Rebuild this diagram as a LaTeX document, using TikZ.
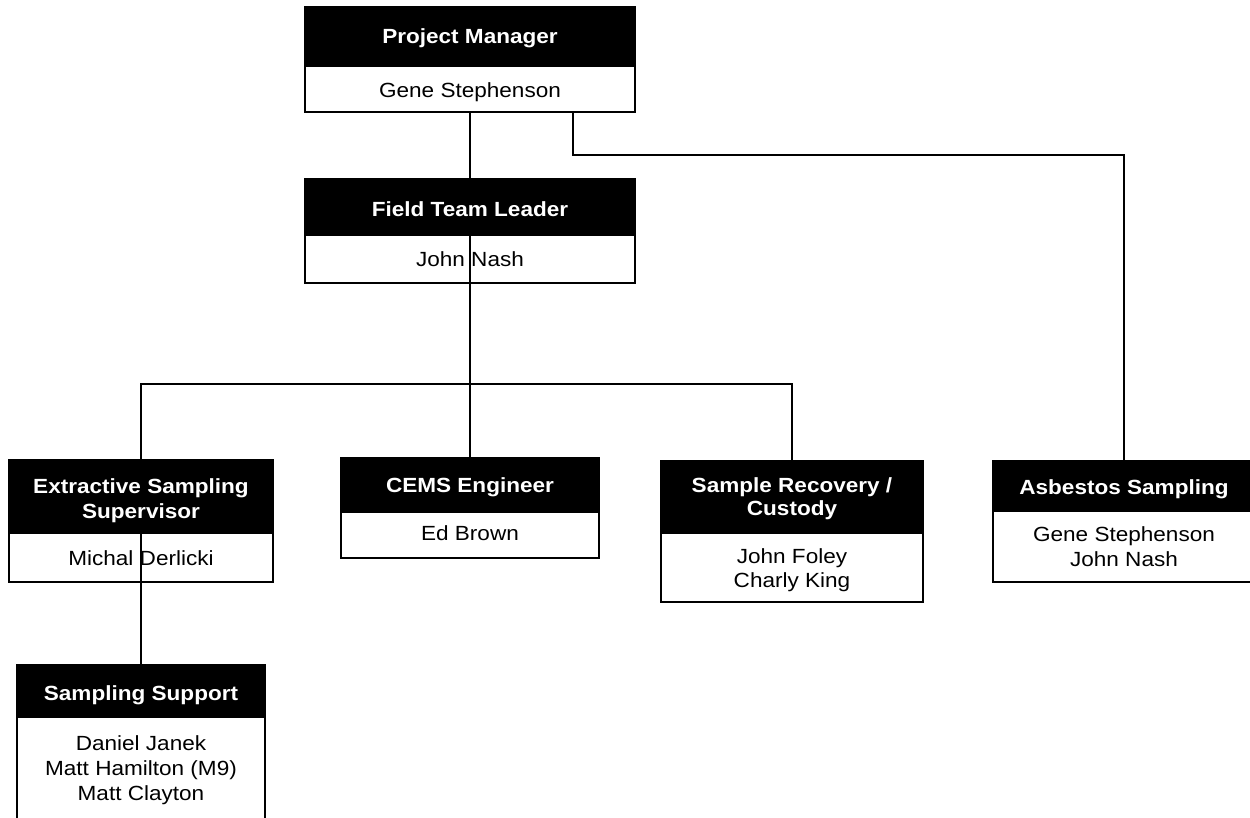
\documentclass[tikz,border=0pt]{standalone}
\usepackage{fontspec}
\setmainfont{Liberation Sans}[FakeStretch=1.1]
\begin{document}
\begin{tikzpicture}[x=1pt,y=-1pt,
  hd/.style={draw=black,fill=black,line width=2pt,inner sep=0pt,outer sep=0pt,anchor=north west},
  bd/.style={draw=black,fill=white,line width=2pt,inner sep=0pt,outer sep=0pt,anchor=north west},
  ht/.style={text=white,font=\fontsize{20.5}{25}\selectfont\bfseries,inner sep=0pt,anchor=base},
  nt/.style={text=black,font=\fontsize{20.5}{25}\selectfont,inner sep=0pt,anchor=base},
  conn/.style={draw=black,line width=2pt}]
\useasboundingbox (0,0) rectangle (1250,818);
\fill[white] (0,0) rectangle (1250,818);
\clip (0,0) rectangle (1250,818);

% Project Manager
\node[hd,minimum width=330pt,minimum height=59pt] (pmh) at (305,7) {};
\node[bd,minimum width=330pt,minimum height=46pt] (pmb) at (305,66) {};
\node[ht] (pmt) at (470,44) {Project Manager};
\node[nt] (pmn) at (470,98) {Gene Stephenson};

% Field Team Leader
\node[hd,minimum width=330pt,minimum height=56pt] (ftlh) at (305,179) {};
\node[bd,minimum width=330pt,minimum height=48pt] (ftlb) at (305,235) {};
\node[ht] (ftlt) at (470,217) {Field Team Leader};
\node[nt] (ftln) at (470,267) {John Nash};

% Extractive Sampling Supervisor
\node[hd,minimum width=264pt,minimum height=73pt] (exth) at (9,460) {};
\node[bd,minimum width=264pt,minimum height=49pt] (extb) at (9,533) {};
\node[ht] (extt1) at (141,493) {Extractive Sampling};
\node[ht] (extt2) at (141,518) {Supervisor};
\node[nt] (extn) at (141,565) {Michal Derlicki};

% CEMS Engineer
\node[hd,minimum width=258pt,minimum height=54pt] (cemsh) at (341,458) {};
\node[bd,minimum width=258pt,minimum height=46pt] (cemsb) at (341,512) {};
\node[ht] (cemst) at (470,492) {CEMS Engineer};
\node[nt] (cemsn) at (470,540) {Ed Brown};

% Sample Recovery / Custody
\node[hd,minimum width=262pt,minimum height=72pt] (srh) at (661,461) {};
\node[bd,minimum width=262pt,minimum height=69pt] (srb) at (661,533) {};
\node[ht] (srt1) at (792,492) {Sample Recovery /};
\node[ht] (srt2) at (792,515) {Custody};
\node[nt] (srn1) at (792,563) {John Foley};
\node[nt] (srn2) at (792,587) {Charly King};

% Asbestos Sampling
\node[hd,minimum width=262pt,minimum height=50pt] (ash) at (993,461) {};
\node[bd,minimum width=262pt,minimum height=71pt] (asb) at (993,511) {};
\node[ht] (ast) at (1124,494) {Asbestos Sampling};
\node[nt] (asn1) at (1124,541) {Gene Stephenson};
\node[nt] (asn2) at (1124,566) {John Nash};

% Sampling Support
\node[hd,minimum width=248pt,minimum height=52pt] (ssh) at (17,665) {};
\node[bd,minimum width=248pt,minimum height=120pt] (ssb) at (17,717) {};
\node[ht] (sst) at (141,700) {Sampling Support};
\node[nt] (ssn1) at (141,750) {Daniel Janek};
\node[nt] (ssn2) at (141,775) {Matt Hamilton (M9)};
\node[nt] (ssn3) at (141,800) {Matt Clayton};

% connector helper points
\coordinate (pmtap) at (573,112);
\coordinate (rbend) at (1124,155);
\coordinate (bus) at (470,384);

% connectors
\draw[conn] (pmb.south) -- (ftlh.north);
\draw[conn] (pmtap) |- (rbend) -- (ash.north);
\draw[conn] (ftlh.south) -- (cemsh.north);
\draw[conn] (exth.north) |- (bus) -| (srh.north);
\draw[conn] (exth.south) -- (ssh.north);
\end{tikzpicture}
\end{document}
